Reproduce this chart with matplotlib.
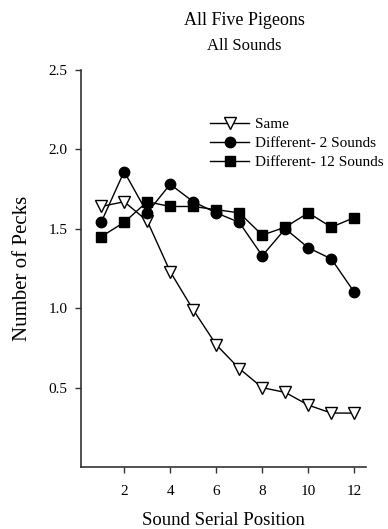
import matplotlib.pyplot as plt
import numpy as np

plt.rcParams['font.family'] = ['Liberation Serif', 'DejaVu Serif']

positions = [1, 2, 3, 4, 5, 6, 7, 8, 9, 10, 11, 12]
same = [1.64, 1.67, 1.55, 1.23, 0.99, 0.77, 0.62, 0.50, 0.47, 0.39, 0.34, 0.34]
diff_2 = [1.54, 1.86, 1.60, 1.78, 1.67, 1.60, 1.54, 1.33, 1.50, 1.38, 1.31, 1.10]
diff_12 = [1.45, 1.54, 1.67, 1.64, 1.64, 1.62, 1.60, 1.46, 1.51, 1.60, 1.51, 1.57]

fig = plt.figure(figsize=(3.88, 5.29), dpi=100)
ax = fig.add_axes([0.209, 0.117, 0.734, 0.751])

ax.plot(positions, same, color='black', lw=1, marker='v', ms=8,
        mfc='white', mec='black', mew=1, label='Same')
ax.plot(positions, diff_2, color='black', lw=1, marker='o', ms=7.5,
        mfc='black', mec='black', label='Different- 2 Sounds')
ax.plot(positions, diff_12, color='black', lw=1, marker='s', ms=6.5,
        mfc='black', mec='black', label='Different- 12 Sounds')

ax.set_xlim(0.13, 12.5)
ax.set_ylim(0, 2.5)
ax.set_xticks([2, 4, 6, 8, 10, 12])
ax.set_yticks([0.5, 1.0, 1.5, 2.0, 2.5])
ax.set_yticklabels(['0.5', '1.0', '1.5', '2.0', '2.5'])
ax.tick_params(direction='out', length=4, width=1, labelsize=11, color='#333333')
ax.tick_params(axis='x', pad=9)
ax.tick_params(axis='y', pad=6)
ax.spines['top'].set_visible(False)
ax.spines['right'].set_visible(False)
for s in ['left', 'bottom']:
    ax.spines[s].set_linewidth(1.2)
    ax.spines[s].set_color('#333333')

ax.set_xlabel('Sound Serial Position', fontsize=13.5, labelpad=10)
ax.set_ylabel('Number of Pecks', fontsize=15, labelpad=12)

ax.legend(loc='upper left', bbox_to_anchor=(0.43, 0.895), frameon=False,
          fontsize=11, handlelength=2.6, handletextpad=0.4, labelspacing=0.35,
          borderaxespad=0)

fig.text(0.63, 0.962, 'All Five Pigeons', ha='center', va='center', fontsize=13)
fig.text(0.63, 0.913, 'All Sounds', ha='center', va='center', fontsize=12)

fig.savefig('out.png', dpi=100)
